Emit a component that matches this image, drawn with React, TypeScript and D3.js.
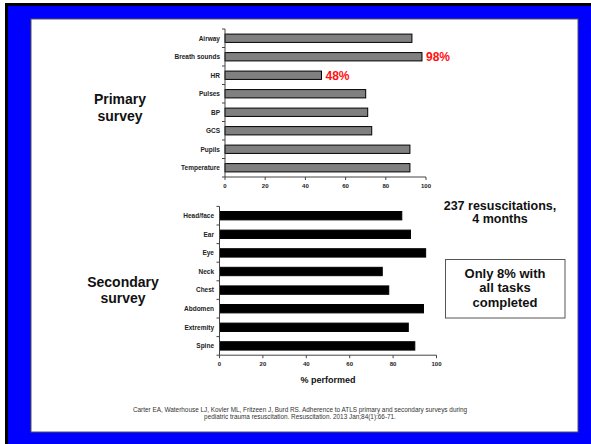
import React from "react";
import * as d3 from "d3";

// Survey task completion rates (%)
const primaryTasks = ["Airway", "Breath sounds", "HR", "Pulses", "BP", "GCS", "Pupils", "Temperature"];
const primaryValues = [93, 98, 48, 70, 71, 73, 92, 92];

const secondaryTasks = ["Head/face", "Ear", "Eye", "Neck", "Chest", "Abdomen", "Extremity", "Spine"];
const secondaryValues = [84, 88, 95, 75, 78, 94, 87, 90];

const xTicks = [0, 20, 40, 60, 80, 100];

// Values called out next to their bars
const highlights: Record<string, string> = { "Breath sounds": "98%", HR: "48%" };

const W = 591;
const H = 444;
const FONT = "'Liberation Sans', Arial, sans-serif";

type PanelProps = {
  tasks: string[];
  values: number[];
  x0: number;
  x1: number;
  y0: number;
  y1: number;
  fill: string;
  labelRight: number;
  callouts?: Record<string, string>;
  axisTitle?: string;
};

function BarPanel({ tasks, values, x0, x1, y0, y1, fill, labelRight, callouts, axisTitle }: PanelProps) {
  const x = d3.scaleLinear().domain([0, 100]).range([x0, x1]);
  const y = d3.scaleBand<string>().domain(tasks).range([y0, y1]).paddingInner(0.55).paddingOuter(0.275);
  const step = y.step();
  return (
    <g fontFamily={FONT}>
      {tasks.map((t, i) => (
        <g key={t}>
          <rect
            x={x(0)}
            y={y(t)!}
            width={x(values[i]) - x(0)}
            height={y.bandwidth()}
            fill={fill}
            stroke="#000"
            strokeWidth={1}
          />
          <text
            x={labelRight}
            y={y(t)! + y.bandwidth() / 2}
            dy="0.35em"
            textAnchor="end"
            fontSize={6.5}
            fontWeight="bold"
            fill="#222"
          >
            {t}
          </text>
          {callouts && callouts[t] && (
            <text
              x={x(values[i]) + 4}
              y={y(t)! + y.bandwidth() / 2}
              dy="0.36em"
              fontSize={12}
              fontWeight="bold"
              fill="#ff1010"
            >
              {callouts[t]}
            </text>
          )}
        </g>
      ))}
      {/* category axis with separator ticks */}
      <line x1={x0} x2={x0} y1={y0} y2={y1} stroke="#444" strokeWidth={1} />
      {d3.range(tasks.length + 1).map((k) => (
        <line key={k} x1={x0 - 3} x2={x0} y1={y0 + k * step} y2={y0 + k * step} stroke="#444" strokeWidth={1} />
      ))}
      {/* value axis */}
      <line x1={x0} x2={x1} y1={y1} y2={y1} stroke="#444" strokeWidth={1} />
      {xTicks.map((v) => (
        <g key={v}>
          <line x1={x(v)} x2={x(v)} y1={y1} y2={y1 + 3} stroke="#444" strokeWidth={1} />
          <text x={x(v)} y={y1 + 9} dy="0.35em" textAnchor="middle" fontSize={6} fontWeight="bold" fill="#222">
            {v}
          </text>
        </g>
      ))}
      {axisTitle && (
        <text x={(x0 + x1) / 2} y={y1 + 25} dy="0.35em" textAnchor="middle" fontSize={9} fontWeight="bold" fill="#111">
          {axisTitle}
        </text>
      )}
    </g>
  );
}

export default function App() {
  return (
    <svg width={W} height={H} style={{ position: "absolute", left: 0, top: 0, display: "block" }}>
      <rect x={0} y={0} width={W} height={H} fill="#fff" />
      {/* slide frame */}
      <rect x={5} y={3} width={W - 5} height={H - 3} fill="#000" />
      <rect x={8} y={6} width={W - 8} height={H - 6} fill="#0000ff" />
      <rect x={31} y={19} width={547} height={413} fill="#fff" stroke="#555" strokeWidth={1} />

      <BarPanel
        tasks={primaryTasks}
        values={primaryValues}
        x0={225}
        x1={426}
        y0={29}
        y1={177}
        fill="#808080"
        labelRight={220}
        callouts={highlights}
      />
      <BarPanel
        tasks={secondaryTasks}
        values={secondaryValues}
        x0={219.5}
        x1={436.5}
        y0={206.4}
        y1={355.2}
        fill="#000"
        labelRight={214}
        axisTitle="% performed"
      />

      <g fontFamily={FONT} fontWeight="bold" fill="#111" textAnchor="middle">
        <text x={120} y={99} dy="0.35em" fontSize={14}>Primary</text>
        <text x={120} y={116.5} dy="0.35em" fontSize={14}>survey</text>
        <text x={123} y={282} dy="0.35em" fontSize={14}>Secondary</text>
        <text x={123} y={298.5} dy="0.35em" fontSize={14}>survey</text>

        <text x={500} y={206} dy="0.35em" fontSize={12.5}>237 resuscitations,</text>
        <text x={500} y={218.5} dy="0.35em" fontSize={12.5}>4 months</text>

        <rect x={445.5} y={259.5} width={119.5} height={58.5} fill="#fff" stroke="#555" strokeWidth={1} />
        <text x={505} y={273} dy="0.35em" fontSize={13}>Only 8% with</text>
        <text x={505} y={287.5} dy="0.35em" fontSize={13}>all tasks</text>
        <text x={505} y={302} dy="0.35em" fontSize={13}>completed</text>
      </g>

      <g fontFamily={FONT} fill="#333" textAnchor="middle" fontSize={6.4}>
        <text x={300} y={410} dy="0.35em">
          Carter EA, Waterhouse LJ, Kovler ML, Fritzeen J, Burd RS. Adherence to ATLS primary and secondary surveys during
        </text>
        <text x={300} y={417} dy="0.35em">
          pediatric trauma resuscitation. Resuscitation. 2013 Jan;84(1):66-71.
        </text>
      </g>
    </svg>
  );
}
